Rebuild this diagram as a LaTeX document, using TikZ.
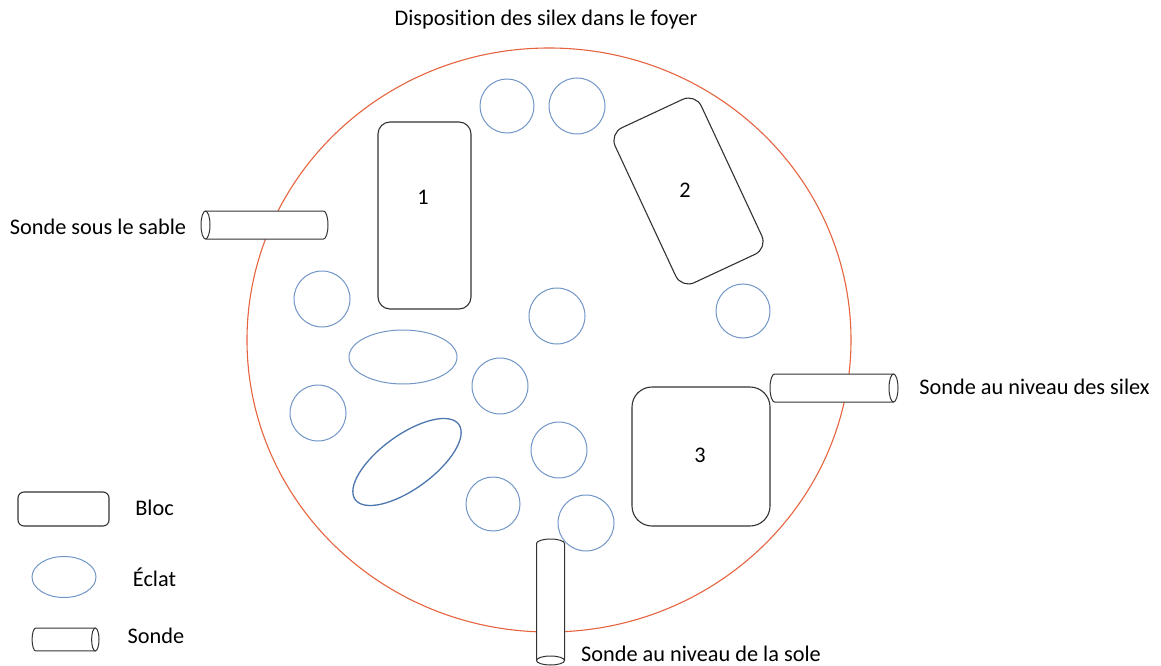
\documentclass[tikz,border=0pt]{standalone}
\usepackage{fontspec}
\setmainfont{Carlito}[Ligatures=NoCommon]
\usetikzlibrary{shapes.geometric}

\definecolor{hearth}{HTML}{E5643F}
\definecolor{flake}{HTML}{7196C6}
\definecolor{flakedark}{HTML}{4C76AE}
\definecolor{outline}{HTML}{333333}

\tikzset{
  txt/.style={font=\fontsize{22.3}{25}\selectfont, inner sep=0pt},
  bloc/.style={draw=outline, line width=1.1pt, fill=white, rectangle, inner sep=0pt},
  eclat/.style={draw=flake, line width=1pt, circle, inner sep=0pt, minimum size=56pt},
  eclatoval/.style={draw=flake, line width=1pt, ellipse, inner sep=0pt},
  probeline/.style={draw=outline, line width=1pt},
  % horizontal probe: open face at the origin, body running along +x
  probe/.pic={
    \path[fill=white] (4.5,14) -- (#1-4.5,14)
      arc[start angle=90, end angle=-90, x radius=4.5, y radius=14]
      -- (4.5,-14) -- cycle;
    \draw[probeline] (4.5,14) -- (#1-4.5,14)
      arc[start angle=90, end angle=-90, x radius=4.5, y radius=14]
      -- (4.5,-14);
    \draw[probeline, fill=white] (4.5,0) ellipse[x radius=4.5, y radius=14];
  }
}

\begin{document}
\begin{tikzpicture}[x=1pt, y=1pt]
  \useasboundingbox (0,0) rectangle (1161,-666);

  % title
  \node[txt] (title) at (546,-20) {Disposition des silex dans le foyer};

  % hearth outline
  \draw[hearth, line width=1.1pt] (549,-340) ellipse[x radius=302, y radius=292];

  % blocks
  \node[bloc, rounded corners=12pt, minimum width=93pt, minimum height=187pt] (b1) at (424.5,-215.5) {};
  \node[txt] (l1) at (423,-197) {1};
  \node[bloc, rounded corners=14pt, minimum width=95pt, minimum height=171pt, rotate=25] (b2) at (688.5,-191) {};
  \node[txt] (l2) at (685,-190) {2};
  \node[bloc, rounded corners=20pt, minimum width=138pt, minimum height=139pt] (b3) at (701,-456.5) {};
  \node[txt] (l3) at (700,-455) {3};

  % flakes
  \node[eclat, minimum size=54pt] (c1) at (507,-106) {};
  \node[eclat] (c2) at (577,-106) {};
  \node[eclat] (c3) at (322,-299) {};
  \node[eclat] (c4) at (557,-316) {};
  \node[eclat, minimum size=54pt] (c5) at (743,-311) {};
  \node[eclat] (c6) at (318,-413) {};
  \node[eclat] (c7) at (500,-386) {};
  \node[eclat] (c8) at (559,-450) {};
  \node[eclat, minimum size=54pt] (c9) at (493,-504) {};
  \node[eclat] (c10) at (586,-523) {};
  \node[eclatoval, minimum width=108pt, minimum height=54pt] (e1) at (403,-357) {};
  \node[eclatoval, draw=flakedark, line width=1.3pt, minimum width=128pt, minimum height=54pt, rotate=36] (e2) at (407,-462) {};

  % probes
  \pic at (201,-225) {probe=127};
  \pic[rotate=180] at (898,-388) {probe=128};
  \pic[rotate=90] at (550.5,-665) {probe=126};

  \node[txt] (p1) at (98,-227) {Sonde sous le sable};
  \node[txt] (p2) at (1034.5,-387) {Sonde au niveau des silex};
  \node[txt] (p3) at (701,-654) {Sonde au niveau de la sole};

  % legend
  \node[bloc, rounded corners=6pt, minimum width=91pt, minimum height=34pt] (kb) at (63.5,-509) {};
  \node[eclatoval, minimum width=64pt, minimum height=41pt] (ke) at (64,-577) {};
  \pic[rotate=180, scale=0.82] at (99,-639.5) {probe=81.6};
  \node[txt] (kbt) at (154.5,-508) {Bloc};
  \node[txt] (ket) at (154.5,-577) {Éclat};
  \node[txt] (kst) at (156,-636) {Sonde};
\end{tikzpicture}
\end{document}
